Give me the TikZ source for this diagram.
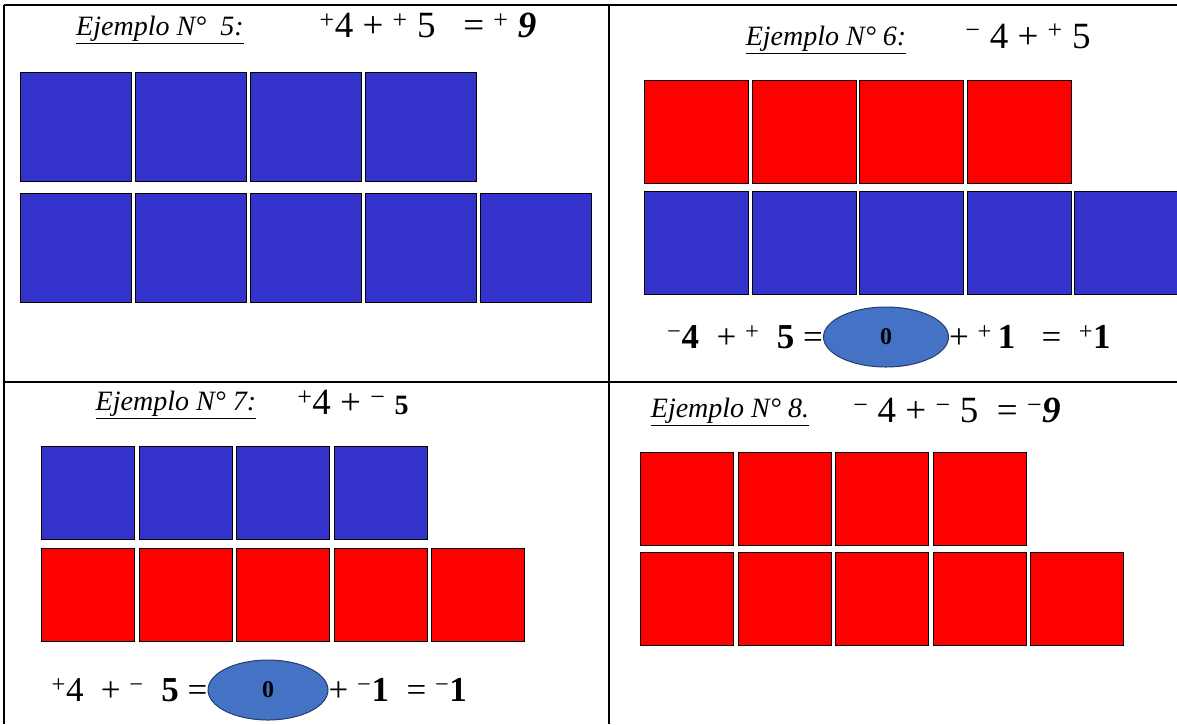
\documentclass[tikz,border=0pt]{standalone}
\usepackage{fontspec}
\setmainfont{Liberation Serif}
\usetikzlibrary{shapes.geometric}
\definecolor{tileblue}{RGB}{51,51,204}
\definecolor{tilered}{RGB}{255,0,0}
\definecolor{zerofill}{RGB}{68,114,196}
\definecolor{zeroline}{RGB}{40,60,110}

\begin{document}
\begin{tikzpicture}[x=1pt, y=-1pt,
  grid/.style={line width=2.5pt, black},
  tile/.style={draw=black, line width=1.2pt, inner sep=0pt, anchor=north west},
  bigtile/.style={tile, minimum width=111pt, minimum height=109pt},
  midtile/.style={tile, minimum width=104pt, minimum height=103pt},
  smalltile/.style={tile, minimum width=93pt, minimum height=93pt},
  title/.style={font=\fontsize{28}{32}\selectfont\itshape},
  sum/.style={font=\fontsize{37}{40}\selectfont, inner sep=0pt},
  result/.style={font=\fontsize{35}{38}\selectfont, inner sep=0pt},
  zero/.style={ellipse, draw=zeroline, line width=1pt, fill=zerofill,
               minimum width=125pt, minimum height=60pt, inner sep=0pt,
               font=\fontsize{24}{26}\selectfont\bfseries},
]
\useasboundingbox (0,0) rectangle (1177,724);

% table lines
\coordinate (tl) at (4,5);
\coordinate (tr) at (1177,5);
\coordinate (bl) at (4,724);
\coordinate (tm) at (609,5);
\coordinate (bm) at (609,724);
\coordinate (ml) at (4,382);
\coordinate (mr) at (1177,382);
\draw[grid] (tl) -- (tr);
\draw[grid] (tl) -- (bl);
\draw[grid] (tm) -- (bm);
\draw[grid] (ml) -- (mr);

% Example 5: +4 + +5
\node[title] (t5) at (160,30) {\underline{Ejemplo N°\ \ 5:}};
\node[sum] (s5) at (428,25) {\textsuperscript{+}4\ + \textsuperscript{+}\ 5\ \ \ =\ \textsuperscript{+}\ \textbf{\textit{9}}};
\foreach \i in {0,...,3}
  \node[bigtile, fill=tileblue] (a\i) at (20+115*\i,72) {};
\foreach \i in {0,...,4}
  \node[bigtile, fill=tileblue] (b\i) at (20+115*\i,193) {};

% Example 6: -4 + +5
\node[title] (t6) at (826,40) {\underline{Ejemplo N°\ 6:}};
\node[sum] (s6) at (1028,36) {\textsuperscript{−}\ 4 + \textsuperscript{+}\ 5};
\foreach \i in {0,...,3}
  \node[midtile, fill=tilered] (c\i) at (644+107.5*\i,80) {};
\foreach \i in {0,...,4}
  \node[midtile, fill=tileblue] (d\i) at (644+107.5*\i,191) {};
\node[zero] (z6) at (886,337) {0};
\node[result, anchor=east] (l6) at (z6.west) {\textsuperscript{−}\textbf{4}\ \ +\ \textsuperscript{+}\ \ \textbf{5}\ =};
\node[result, anchor=west] (r6) at (z6.east) {+\ \textsuperscript{+}\,\textbf{1}\ \ \ =\ \ \textsuperscript{+}\textbf{1}};

% Example 7: +4 + -5
\node[title] (t7) at (176,405) {\underline{Ejemplo N° 7:}};
\node[sum] (s7) at (353,402) {\textsuperscript{+}4 + \textsuperscript{−} {\fontsize{28}{30}\selectfont\textbf{5}}};
\foreach \i in {0,...,3}
  \node[smalltile, fill=tileblue] (e\i) at (41+97.5*\i,446) {};
\foreach \i in {0,...,4}
  \node[smalltile, fill=tilered] (f\i) at (41+97.5*\i,548) {};
\node[zero, minimum width=120pt] (z7) at (268,690) {0};
\node[result, anchor=east] (l7) at (z7.west) {\textsuperscript{+}4\ \ +\ \textsuperscript{−}\ \ \textbf{5}\ =};
\node[result, anchor=west] (r7) at (z7.east) {+\ \textsuperscript{−}\textbf{1}\ \ =\ \textsuperscript{−}\textbf{1}};

% Example 8: -4 + -5
\node[title] (t8) at (730,412) {\underline{Ejemplo N° 8.}};
\node[sum] (s8) at (957,410) {\textsuperscript{−}\ 4 + \textsuperscript{−}\ 5\ \ =\ \textsuperscript{−}\textbf{\textit{9}}};
\foreach \i in {0,...,3}
  \node[smalltile, fill=tilered] (g\i) at (640+97.5*\i,452) {};
\foreach \i in {0,...,4}
  \node[smalltile, fill=tilered] (h\i) at (640+97.5*\i,552) {};

\end{tikzpicture}
\end{document}
